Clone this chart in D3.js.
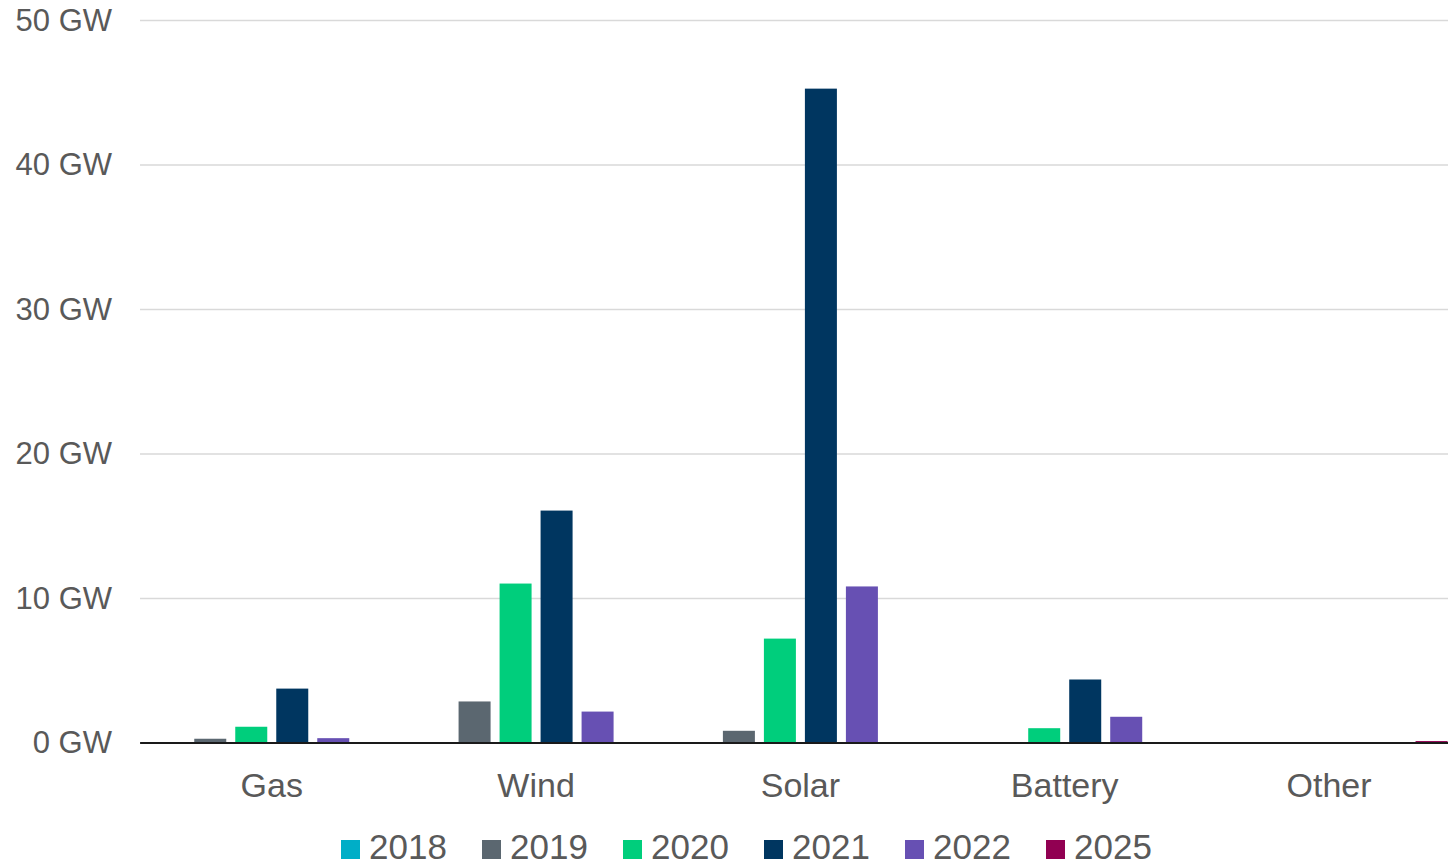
<!DOCTYPE html>
<html>
<head>
<meta charset="utf-8">
<script src="https://cdn.jsdelivr.net/npm/d3@7"></script>
<style>
    body { margin: 0; background: #fff; }
    svg { display: block; font-family: "Liberation Sans", Arial, sans-serif; }
</style>
</head>
<body>
<div id="chart"></div>
<script>
// categories and series (GW)
var categories = ["Gas", "Wind", "Solar", "Battery", "Other"];
var years = ["2018", "2019", "2020", "2021", "2022", "2025"];
var yearColors = ["#00aec7", "#5b6770", "#00ce7c", "#003660", "#6750b3", "#910052"];

var values2018 = [0, 0, 0, 0, 0];
var values2019 = [0.26, 2.84, 0.81, 0, 0];
var values2020 = [1.09, 11.0, 7.19, 0.99, 0];
var values2021 = [3.73, 16.05, 45.25, 4.36, 0];
var values2022 = [0.3, 2.14, 10.8, 1.78, 0];
var values2025 = [0, 0, 0, 0, 0.1];

var yTicks = [0, 10, 20, 30, 40, 50];

var seriesValues = [values2018, values2019, values2020, values2021, values2022, values2025];

// flatten into rows for the bars
var rows = [];
categories.forEach(function (cat, i) {
    years.forEach(function (yr, j) {
        rows.push({ cat: cat, year: yr, value: seriesValues[j][i] });
    });
});

var width = 1448, height = 868;

var svg = d3.select("#chart")
    .append("svg")
    .attr("width", width)
    .attr("height", height);

// plot runs slightly past the right edge, like the original
var x = d3.scaleBand()
    .domain(categories)
    .range([139.6, 1461.2])
    .padding(0);

var xInner = d3.scaleBand()
    .domain(years)
    .range([0, x.bandwidth()])
    .paddingInner(9 / 41)
    .paddingOuter(0.333);

var y = d3.scaleLinear()
    .domain([0, 50])
    .range([742.5, 20]);

var color = d3.scaleOrdinal()
    .domain(years)
    .range(yearColors);

// gridlines + y labels
var yAxis = svg.append("g")
    .attr("transform", "translate(140,0)")
    .call(d3.axisLeft(y)
        .tickValues(yTicks)
        .tickSize(-(width - 140))
        .tickPadding(28)
        .tickFormat(function (d) { return d + " GW"; }));

yAxis.select(".domain").remove();
yAxis.selectAll(".tick line")
    .attr("stroke", "#d9d9d9")
    .attr("stroke-width", 1.5);
yAxis.selectAll(".tick text")
    .attr("fill", "#595959")
    .attr("font-size", 31)
    .attr("font-family", "Liberation Sans, Arial, sans-serif")
    .attr("dy", "0.33em");

// bars
svg.append("g")
    .selectAll("rect")
    .data(rows)
    .enter()
    .append("rect")
    .attr("x", function (d) { return x(d.cat) + xInner(d.year); })
    .attr("y", function (d) { return y(d.value); })
    .attr("width", xInner.bandwidth())
    .attr("height", function (d) { return y(0) - y(d.value); })
    .attr("fill", function (d) { return color(d.year); });

// base line
var xAxis = svg.append("g")
    .attr("transform", "translate(0," + y(0) + ")")
    .call(d3.axisBottom(x).tickSize(0).tickPadding(30));

xAxis.select(".domain")
    .attr("stroke", "#1a1a1a")
    .attr("stroke-width", 2);
xAxis.selectAll(".tick text")
    .attr("fill", "#595959")
    .attr("font-size", 34)
    .attr("font-family", "Liberation Sans, Arial, sans-serif");

// legend (kept just inside the bottom edge)
var legend = svg.append("g")
    .attr("transform", "translate(341,0)");

var item = legend.selectAll("g")
    .data(years)
    .enter()
    .append("g")
    .attr("transform", function (d, i) { return "translate(" + (i * 141) + ",0)"; });

item.append("rect")
    .attr("x", 0)
    .attr("y", 840)
    .attr("width", 19)
    .attr("height", 19)
    .attr("fill", function (d) { return color(d); });

item.append("text")
    .attr("x", 28)
    .attr("y", 859)
    .attr("fill", "#595959")
    .attr("font-size", 35)
    .text(function (d) { return d; });
</script>
</body>
</html>
